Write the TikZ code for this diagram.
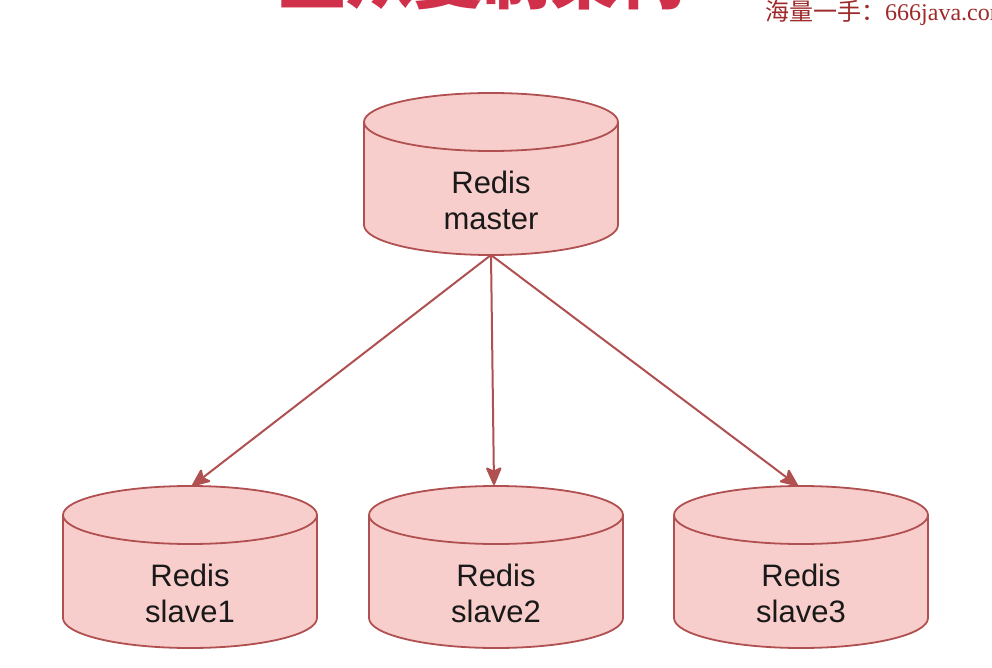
\documentclass[tikz,border=0pt]{standalone}
\usepackage{fontspec}
\setmainfont{Liberation Sans}
\newfontfamily\cjk{Noto Sans CJK SC}
\newfontfamily\wmserif{Liberation Serif}
\usetikzlibrary{arrows.meta}
\definecolor{dbfill}{HTML}{F8CECC}
\definecolor{dbline}{HTML}{B05050}
\definecolor{titlered}{HTML}{D0304A}
\definecolor{wmred}{HTML}{9E2A2A}
\tikzset{
  dbshape/.style={fill=dbfill, draw=dbline, line width=1.8pt},
  dbrim/.style={draw=dbline, line width=1.8pt},
  dblabel/.style={align=center, font=\fontsize{31}{36}\selectfont, text=black!90},
  conn/.style={draw=dbline, line width=2pt, -{Stealth[length=20pt,width=17pt,inset=4pt,round]}}
}
\newcommand{\dbcyl}[3]{% cx, top ellipse centre y, bottom ellipse centre y
  \filldraw[dbshape] (#1-127,#2) -- (#1-127,#3)
    arc[start angle=180,end angle=360,x radius=127,y radius=30]
    -- (#1+127,#2)
    arc[start angle=0,end angle=180,x radius=127,y radius=29] -- cycle;
  \draw[dbrim] (#1-127,#2) arc[start angle=180,end angle=360,x radius=127,y radius=29];
}
\begin{document}
\begin{tikzpicture}[x=1pt,y=1pt]
\useasboundingbox (0,0) rectangle (992,-668);
\fill[white] (0,0) rectangle (992,-668);
\begin{scope}
\clip (0,0) rectangle (992,-668);
\node[anchor=base west, inner sep=0pt, text=titlered, font=\cjk\bfseries\fontsize{68}{70}\selectfont] (title) at (278,-4) {主从复制架构};
\node[anchor=west, inner sep=0pt, text=wmred, font=\fontsize{24}{26}\selectfont] (wm) at (765,-13) {{\cjk 海量一手：}{\wmserif 666java.com}};
\end{scope}

% cylinders
\dbcyl{491}{-122}{-225}
\dbcyl{190}{-515}{-618}
\dbcyl{496}{-515}{-618}
\dbcyl{801}{-515}{-618}

% labels
\node[dblabel] (master) at (491,-200) {Redis\\master};
\node[dblabel] (slave1) at (190,-593) {Redis\\slave1};
\node[dblabel] (slave2) at (496,-593) {Redis\\slave2};
\node[dblabel] (slave3) at (801,-593) {Redis\\slave3};

% anchor coordinates
\coordinate (mb) at (491,-255);
\coordinate (s1t) at (192,-486);
\coordinate (s2t) at (494,-485);
\coordinate (s3t) at (798,-486);

\draw[conn] (mb) -- (s1t);
\draw[conn] (mb) -- (s2t);
\draw[conn] (mb) -- (s3t);
\end{tikzpicture}
\end{document}
